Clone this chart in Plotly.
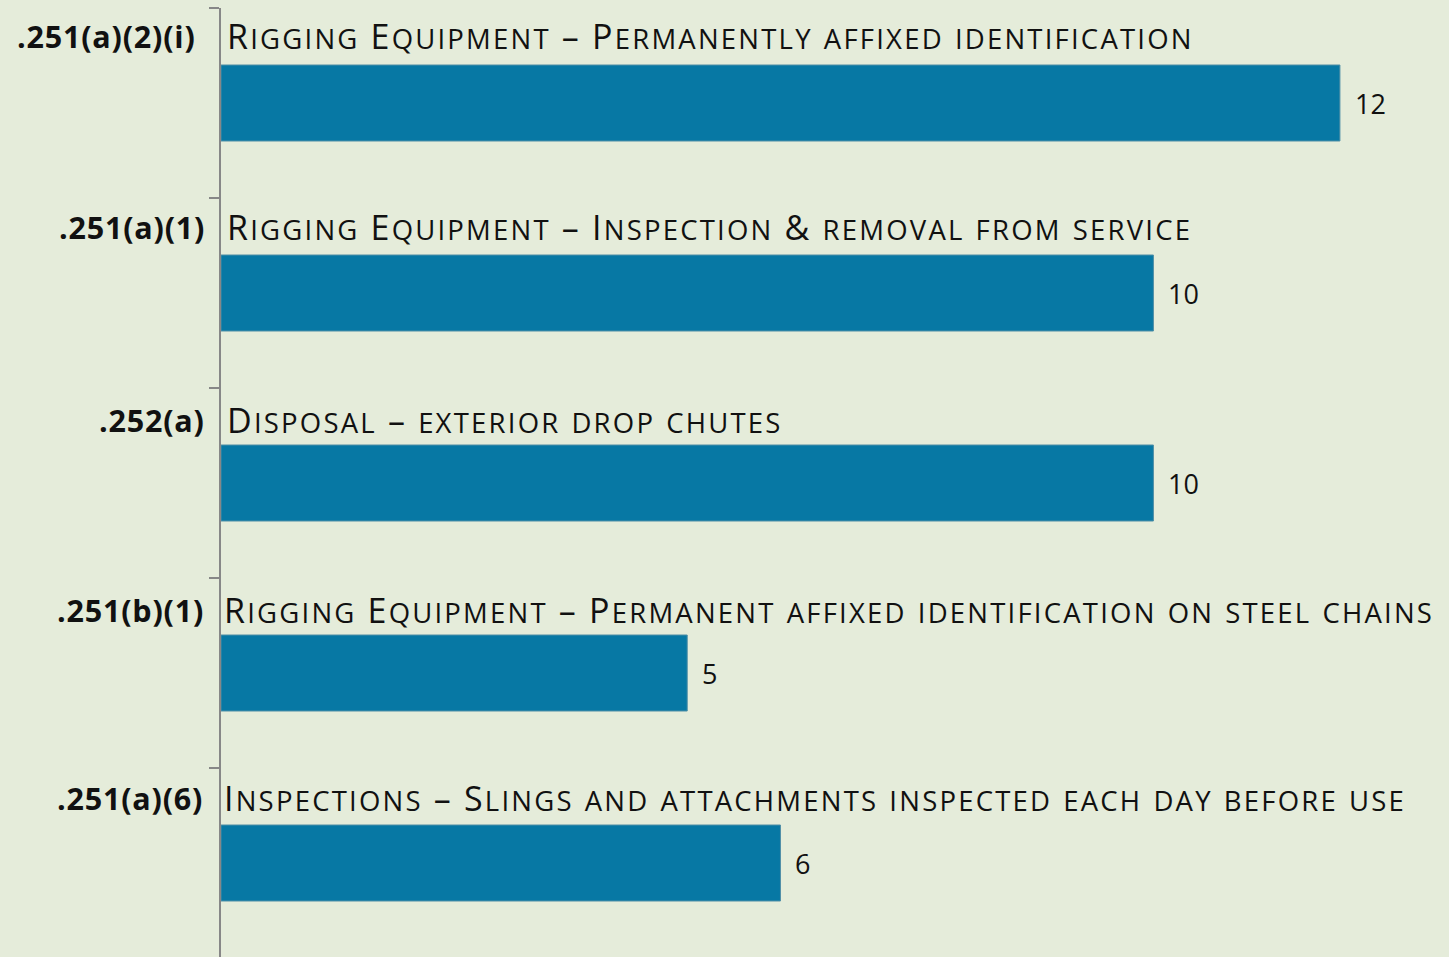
import plotly.graph_objects as go

codes = [".251(a)(2)(i)", ".251(a)(1)", ".252(a)", ".251(b)(1)", ".251(a)(6)"]
titles = [
    "Rigging Equipment – Permanently affixed identification",
    "Rigging Equipment – Inspection & removal from service",
    "Disposal – exterior drop chutes",
    "Rigging Equipment – Permanent affixed identification on steel chains",
    "Inspections – Slings and attachments inspected each day before use",
]
values = [12, 10, 10, 5, 6]

positions = list(range(len(values)))

BG = "#E5ECDA"
BAR = "#0778A4"
AXIS = "#878787"
FONT = "Open Sans"
CAP = 34
SMALL = 27.5
SPACING = 2.2


def small_caps(s):
    out = []
    for ch in s:
        if ch.islower():
            out.append(f'<span style="font-size:{SMALL}px;letter-spacing:{SPACING}px">{ch.upper()}</span>')
        elif ch == "&":
            out.append(f'<span style="letter-spacing:{SPACING}px">&amp;</span>')
        else:
            out.append(f'<span style="letter-spacing:{SPACING}px">{ch}</span>')
    return "".join(out)


fig = go.Figure(
    go.Bar(
        x=values,
        y=positions,
        orientation="h",
        width=0.4,
        marker=dict(color=BAR, line=dict(color="#4f8ea6", width=1)),
        hoverinfo="skip",
    )
)

# layout tweaks per row (pixels / axis-unit offsets), not data
title_offsets = [0.355, 0.35, 0.33, 0.33, 0.34]
title_shift = [4, 4, 4, 1, 1]
code_shift = [-23, -14, -14, -15, -16]

annotations = []
for i, (c, t, v) in enumerate(zip(codes, titles, values)):
    yy = positions[i] - title_offsets[i]
    annotations.append(dict(
        x=0, y=yy, xref="x", yref="y", xanchor="left", yanchor="middle",
        text=small_caps(t), showarrow=False, xshift=title_shift[i],
        font=dict(family=FONT, size=CAP, color="#111111"),
    ))
    annotations.append(dict(
        x=0, y=yy, xref="x", yref="y", xanchor="right", yanchor="middle",
        text=f'<b><span style="letter-spacing:0.8px">{c}</span></b>', showarrow=False,
        xshift=code_shift[i],
        font=dict(family=FONT, size=30.5, color="#111111"),
    ))
    annotations.append(dict(
        x=v, y=positions[i], xref="x", yref="y", xanchor="left", yanchor="middle",
        text=str(v), showarrow=False, xshift=13,
        font=dict(family=FONT, size=27, color="#111111"),
    ))

fig.update_layout(
    width=1449, height=957,
    paper_bgcolor=BG, plot_bgcolor=BG,
    margin=dict(l=221, r=0, t=8, b=0),
    showlegend=False,
    annotations=annotations,
    xaxis=dict(range=[0, 13.17], visible=False, fixedrange=True),
    yaxis=dict(
        range=[-0.5 + 949 / 190, -0.5],
        tickvals=[-0.5, 0.5, 1.5, 2.5, 3.5],
        showticklabels=False,
        ticks="outside", ticklen=10, tickwidth=2, tickcolor=AXIS,
        showline=True, linewidth=2, linecolor=AXIS,
        showgrid=False, zeroline=False, fixedrange=True,
    ),
)

fig.write_html(
    "out.html",
    config={"displayModeBar": False},
    post_script="document.body.style.margin='0';document.body.style.background='" + BG + "';",
)
